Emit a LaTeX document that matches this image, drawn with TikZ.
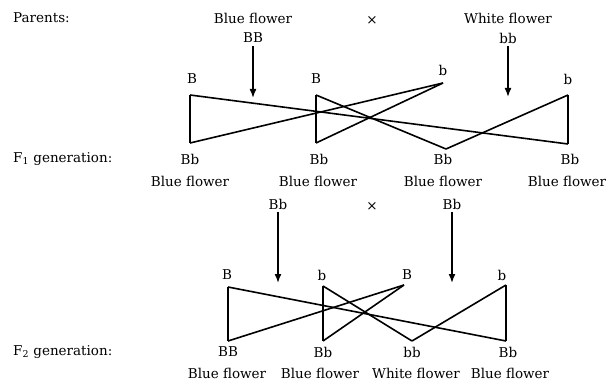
\documentclass[tikz,border=0pt]{standalone}
\usepackage{fontspec}
\setmainfont{DejaVu Serif}
\usetikzlibrary{arrows.meta}

\begin{document}
\begin{tikzpicture}
  [x=1pt,y=-1pt,every node/.style={inner sep=3pt,font=\fontsize{13.5}{15}\selectfont},
   cross/.style={line width=1.6pt,line join=round},
   down/.style={line width=1.6pt,-{Latex[length=9pt,width=7pt]}}]
  \useasboundingbox (0,0) rectangle (613,382);
  % parents
  \node[anchor=west] (par) at (10,18) {Parents:};
  \node (pb) at (253,18) {Blue flower};
  \node (px) at (372,20) {×};
  \node (pw) at (508,18) {White flower};
  \node (BB) at (253,38) {BB};
  \node (bb) at (508,38) {bb};
  \coordinate (ea) at (253,98);
  \coordinate (eb) at (508,97);
  \draw[down] (BB) -- (ea);
  \draw[down] (bb) -- (eb);
  % gametes of the parents
  \node (g1) at (192,79) {B};
  \node (g2) at (316,79) {B};
  \node (g3) at (443,70) {b};
  \node (g4) at (568,79) {b};
  \coordinate (a1) at (190,95);
  \coordinate (a2) at (316,95);
  \coordinate (a3) at (443,83);
  \coordinate (a4) at (568,95);
  \coordinate (c1) at (190,143);
  \coordinate (c2) at (316,143);
  \coordinate (c3) at (446,149);
  \coordinate (c4) at (568,144);

\foreach \from/\to in
{a1/c1, a1/c4, a3/c1, a2/c2, a2/c3, a3/c2, a4/c4, a4/c3}
    \draw[cross] (\from) -- (\to);
  % F1
  \node[anchor=west] (fa) at (10,159) {F\textsubscript{1} generation:};
  \node (f1) at (190,159) {Bb};
  \node (f2) at (319,159) {Bb};
  \node (f3) at (443,159) {Bb};
  \node (f4) at (570,159) {Bb};
  \node (h1) at (190,181) {Blue flower};
  \node (h2) at (318,181) {Blue flower};
  \node (h3) at (443,181) {Blue flower};
  \node (h4) at (567,181) {Blue flower};
  % F1 crossed
  \node (q1) at (278,204) {Bb};
  \node (qx) at (372,206) {×};
  \node (q2) at (452,204) {Bb};
  \coordinate (ec) at (278,283);
  \coordinate (ed) at (452,283);
  \draw[down] (q1) -- (ec);
  \draw[down] (q2) -- (ed);
  \node (k1) at (227,275) {B};
  \node (k2) at (322,275) {b};
  \node (k3) at (407,275) {B};
  \node (k4) at (502,275) {b};
  \coordinate (d1) at (228,287);
  \coordinate (d2) at (323,286);
  \coordinate (d3) at (404,285);
  \coordinate (d4) at (506,285);
  \coordinate (e1) at (228,341);
  \coordinate (e2) at (323,341);
  \coordinate (e3) at (412,341);
  \coordinate (e4) at (506,341);

\foreach \from/\to in
{d1/e1, d1/e4, d3/e1, d2/e2, d2/e3, d3/e2, d4/e4, d4/e3}
    \draw[cross] (\from) -- (\to);
  % F2
  \node[anchor=west] (fb) at (10,352) {F\textsubscript{2} generation:};
  \node (s1) at (228,352) {BB};
  \node (s2) at (323,352) {Bb};
  \node (s3) at (412,352) {bb};
  \node (s4) at (508,352) {Bb};
  \node (t1) at (227,373) {Blue flower};
  \node (t2) at (320,373) {Blue flower};
  \node (t3) at (416,373) {White flower};
  \node (t4) at (510,373) {Blue flower};
\end{tikzpicture}
\end{document}
